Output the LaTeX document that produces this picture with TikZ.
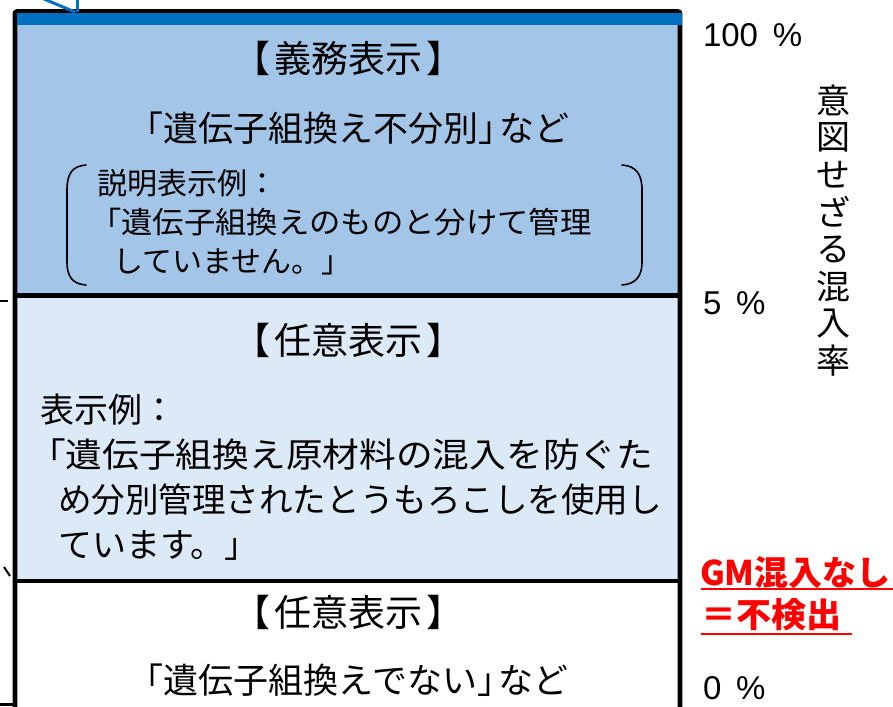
\documentclass[tikz,border=0pt]{standalone}
\usepackage{fontspec}
\setmainfont{Noto Sans CJK JP}
\newfontfamily\lat{Liberation Sans}
\definecolor{topblue}{RGB}{163,198,232}
\definecolor{midblue}{RGB}{220,233,246}
\definecolor{barblue}{RGB}{0,112,192}
\definecolor{gmred}{RGB}{255,0,0}
\begin{document}
\begin{tikzpicture}[x=1pt,y=-1pt,
  txt/.style={inner sep=0pt, outer sep=0pt},
  titletxt/.style={txt, font=\fontsize{35}{40}\selectfont},
  headtxt/.style={txt, font=\fontsize{37}{42}\selectfont},
  bodytxt/.style={txt, anchor=west, font=\fontsize{34}{40}\selectfont},
  desctxt/.style={txt, anchor=west, font=\fontsize{30}{36}\selectfont},
  pcttxt/.style={txt, anchor=west, font=\lat\fontsize{33}{38}\selectfont},
  gmtxt/.style={txt, anchor=west, text=gmred, font=\bfseries\fontsize{34}{40}\selectfont},
  vtxt/.style={txt, font=\fontsize{34}{40}\selectfont},
  boxframe/.style={line width=4.6pt, draw=black},
  paren/.style={line width=1.6pt, draw=black, line cap=round},
  tick/.style={line width=1.6pt, draw=black}
]
\useasboundingbox (0,0) rectangle (893,706);
\clip (0,0) rectangle (893,706);
% fills
\fill[topblue] (15,12) rectangle (680,295.5);
\fill[midblue] (15,295.5) rectangle (680,581);
% frame
\draw[boxframe, rounded corners=2pt] (15,720) -- (15,11.5) -- (680,11.5) -- (680,720);
\draw[boxframe] (15,295.5) -- (680,295.5);
\draw[boxframe] (15,581) -- (680,581);
\fill[barblue] (17.3,12.7) rectangle (682,25);
% fragments at the edges
\draw[barblue, line width=3pt] (44,-1) -- (75,12);
\draw[barblue, line width=3pt] (77,-1) -- (77,12);
\draw[tick] (0,301) -- (8,301);
\draw[tick, line width=2pt] (4,567) -- (10,576);
\draw[tick, line width=3pt] (0,704) -- (13,704);
% top section
\node[headtxt] (t1) at (348.5,58) {【\hspace{0.12em}義務表示\hspace{0.12em}】};
\node[titletxt] (t2) at (348.5,128) {「遺伝子組換え不分別」\hspace{-0.4em}など};
\draw[paren] (86,165) .. controls (72,166) and (67,174) .. (67,190) -- (67,262) .. controls (67,276) and (72,284) .. (86,285);
\draw[paren] (622,165) .. controls (636,166) and (642,174) .. (642,190) -- (642,262) .. controls (642,276) and (636,284) .. (622,285);
\node[desctxt] (d1) at (97,183) {説明表示例：};
\node[desctxt] (d2) at (90,222) {\scalebox{1.045}[1]{「遺伝子組換えのものと分けて管理}};
\node[desctxt] (d3) at (113,262) {していません。」};
% middle section
\node[headtxt] (m1) at (348.5,340) {【\hspace{0.12em}任意表示\hspace{0.12em}】};
\node[bodytxt] (b1) at (40,410) {表示例：};
\node[bodytxt] (b2) at (29,455) {\scalebox{1.08}[1]{「遺伝子組換え原材料の混入を防ぐた}};
\node[bodytxt] (b3) at (58,500) {\scalebox{0.987}[1]{め分別管理されたとうもろこしを使用し}};
\node[bodytxt] (b4) at (58,545) {ています。」};
% bottom section
\node[headtxt] (w1) at (348.5,612) {【\hspace{0.12em}任意表示\hspace{0.12em}】};
\node[titletxt] (w2) at (348.5,680) {「遺伝子組換えでない」\hspace{-0.4em}など};
% right labels
\node[pcttxt] (p100) at (703,35) {100\hspace{0.45em}\%};
\node[pcttxt] (p5) at (703,303) {5\hspace{0.45em}\%};
\node[pcttxt] (p0) at (703,688) {0\hspace{0.45em}\%};
\foreach \c [count=\i from 0] in {意,図,せ,ざ,る,混,入,率}
  \node[vtxt] (v\i) at (833,{100+\i*37.3}) {\c};
\node[gmtxt] (r1) at (700,573) {GM混入なし};
\node[gmtxt] (r2) at (701,615) {\scalebox{1.03}[1]{＝不検出}};
\draw[gmred, line width=2pt] (701,589) -- (893,589);
\draw[gmred, line width=2pt] (701,634) -- (852,634);
\end{tikzpicture}
\end{document}
